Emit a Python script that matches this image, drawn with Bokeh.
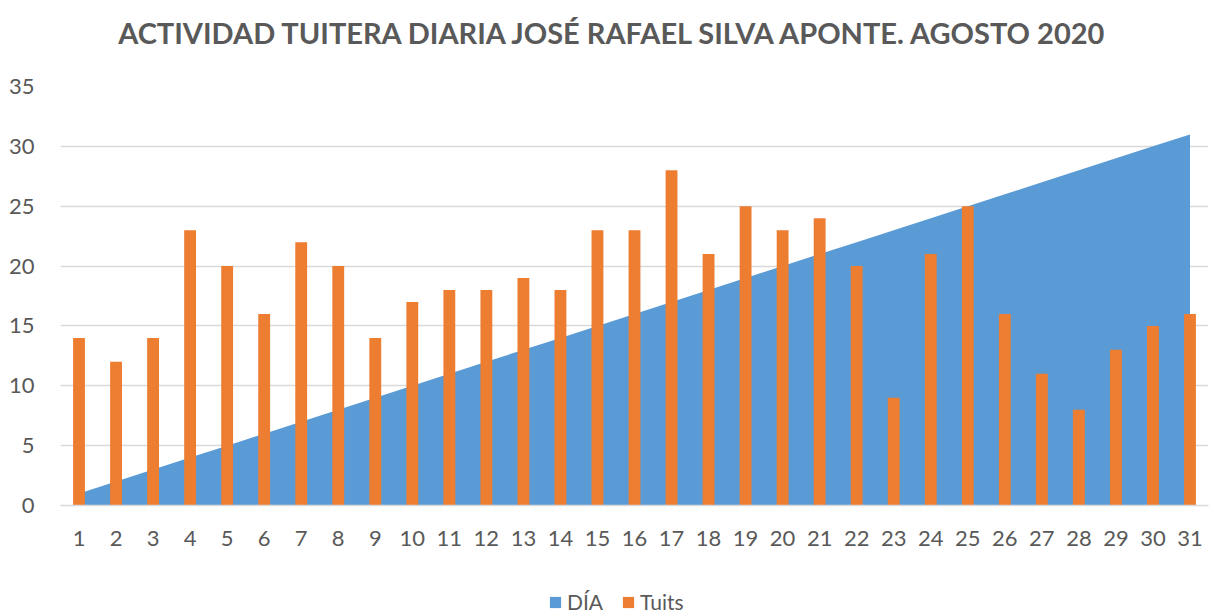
from bokeh.plotting import figure
from bokeh.layouts import column
from bokeh.models import Range1d, FixedTicker, Legend, LegendItem, ColumnDataSource, Label
from bokeh.embed import file_html
from bokeh.resources import INLINE

title_text = "ACTIVIDAD TUITERA DIARIA  JOSÉ RAFAEL SILVA APONTE. AGOSTO 2020"
days = list(range(1, 32))
dia = list(range(1, 32))
tuits = [14, 12, 14, 23, 20, 16, 22, 20, 14, 17, 18, 18, 19, 18, 23, 23, 28,
         21, 25, 23, 24, 20, 9, 21, 25, 16, 11, 8, 13, 15, 16]
y_ticks = [0, 5, 10, 15, 20, 25, 30, 35]
series_names = ["DÍA", "Tuits"]

BLUE = "#5B9BD5"
ORANGE = "#ED7D31"
GRAY = "#595959"
FONT = "Lato"
W = 1214


def blank(height):
    f = figure(width=W, height=height, output_backend="svg", toolbar_location=None,
               x_range=Range1d(0, 1), y_range=Range1d(0, 1),
               x_axis_location=None, y_axis_location=None,
               min_border_left=0, min_border_right=0, min_border_top=0,
               min_border_bottom=0)
    f.outline_line_color = None
    f.xgrid.visible = False
    f.ygrid.visible = False
    f.border_fill_color = "white"
    f.background_fill_color = "white"
    return f


# --- title strip ---
top = blank(72)
top.add_layout(Label(x=558, y=40, x_units="screen", y_units="screen",
                     text=title_text, text_align="center",
                     text_baseline="alphabetic", text_font=FONT,
                     text_font_style="bold", text_font_size="29px",
                     text_color=GRAY))

# --- main chart ---
src = ColumnDataSource(dict(day=days, dia=dia, tuits=tuits, zero=[0] * len(days)))

p = figure(width=W, height=498, output_backend="svg", toolbar_location=None,
           x_range=Range1d(0.5, 31.5), y_range=Range1d(0, 35),
           min_border_left=60, min_border_right=6, min_border_top=14,
           min_border_bottom=65)
p.outline_line_color = None
p.background_fill_color = "white"
p.border_fill_color = "white"

p.varea(x="day", y1="zero", y2="dia", source=src, fill_color=BLUE)
p.vbar(x="day", top="tuits", width=0.32, source=src, fill_color=ORANGE,
       line_color=None)

p.xgrid.grid_line_color = None
p.ygrid.grid_line_color = "#D9D9D9"
p.ygrid.grid_line_width = 1.3
p.ygrid.ticker = FixedTicker(ticks=y_ticks)

p.yaxis.ticker = FixedTicker(ticks=y_ticks)
p.yaxis.axis_line_color = None
p.yaxis.major_tick_line_color = None
p.yaxis.minor_tick_line_color = None
p.yaxis.major_label_text_font = FONT
p.yaxis.major_label_text_font_size = "22px"
p.yaxis.major_label_text_color = GRAY
p.yaxis.major_label_standoff = 20

p.xaxis.ticker = FixedTicker(ticks=days)
p.xaxis.axis_line_color = "#D9D9D9"
p.xaxis.axis_line_width = 1.3
p.xaxis.major_tick_line_color = None
p.xaxis.minor_tick_line_color = None
p.xaxis.major_label_text_font = FONT
p.xaxis.major_label_text_font_size = "22px"
p.xaxis.major_label_text_color = GRAY
p.xaxis.major_label_standoff = 19

# --- legend strip (swatch renderers sit outside the visible range) ---
leg = blank(46)
swatch = ColumnDataSource(dict(x=[-10], y1=[0], y2=[0], top=[0]))
r_area = leg.varea(x="x", y1="y1", y2="y2", source=swatch, fill_color=BLUE)
r_bar = leg.vbar(x="x", top="top", width=0.3, source=swatch, fill_color=ORANGE,
                 line_color=None)
legend = Legend(items=[LegendItem(label=series_names[0], renderers=[r_area]),
                       LegendItem(label=series_names[1], renderers=[r_bar])],
                orientation="horizontal", location=(488, 2),
                glyph_width=14, glyph_height=14, label_standoff=5, spacing=18,
                padding=0, margin=0, border_line_color=None,
                background_fill_alpha=0,
                label_text_font=FONT, label_text_font_size="21px",
                label_text_color=GRAY)
leg.add_layout(legend)

layout = column(top, p, leg, spacing=0)
open("out.html", "w").write(file_html(layout, INLINE))
